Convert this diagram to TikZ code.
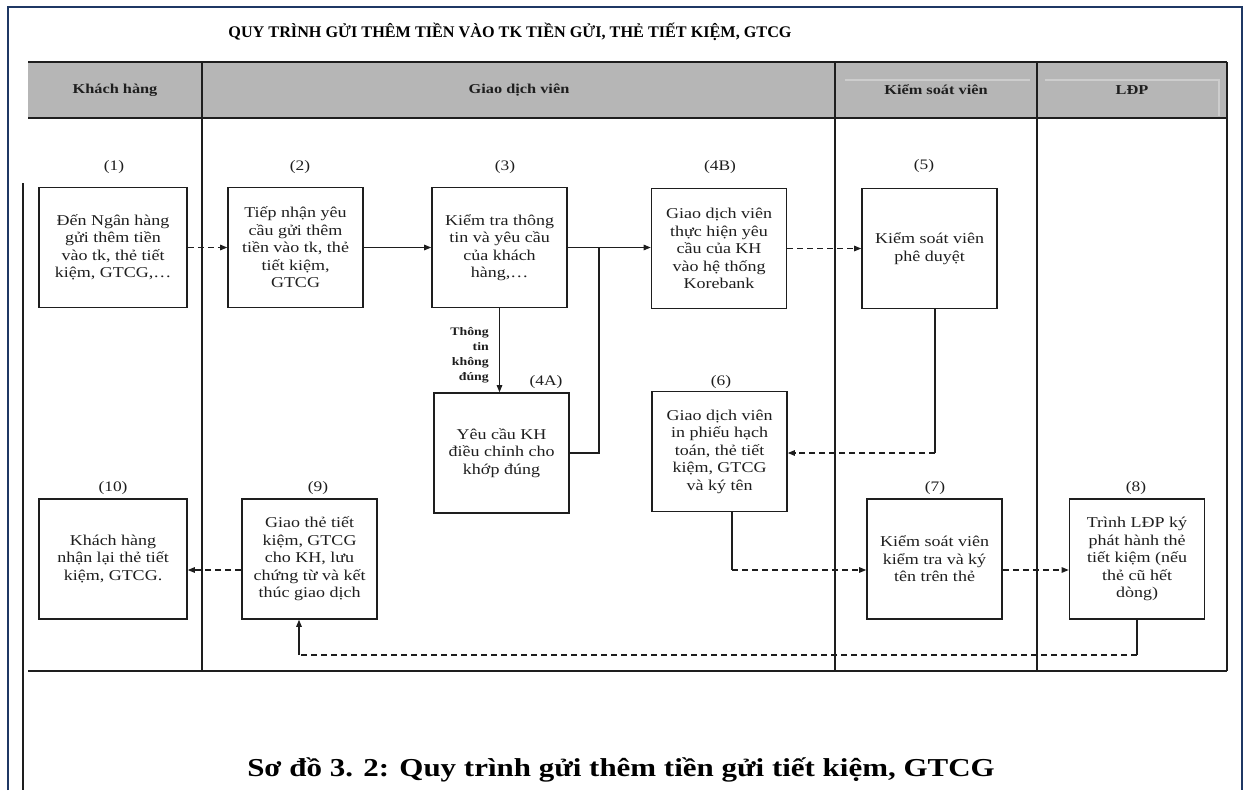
\documentclass[tikz,border=0pt]{standalone}
\usepackage{fontspec}
\setmainfont{Liberation Serif}[FakeStretch=1.2]
\newfontfamily\titlefont{Liberation Serif}
\usetikzlibrary{arrows.meta}
\definecolor{navy}{RGB}{31,56,100}
\definecolor{hdr}{RGB}{182,182,182}
\definecolor{hdrline}{RGB}{205,205,205}
\definecolor{ink}{RGB}{30,30,30}
\begin{document}
\begin{tikzpicture}[x=1pt,y=-1pt,
  box/.style={draw=ink, line width=1.6pt, minimum width=135pt, minimum height=120pt,
    align=center, inner sep=2pt, text=ink, font=\fontsize{15}{17.5}\selectfont},
  num/.style={text=ink, inner sep=0pt, font=\fontsize{14.5}{16}\selectfont},
  hdrtext/.style={text=ink, inner sep=0pt, font=\bfseries\fontsize{13.6}{15}\selectfont},
  lane/.style={draw=ink, line width=1.3pt},
  plain/.style={draw=ink, line width=1.1pt},
  dplain/.style={plain, dash pattern=on 6pt off 4pt},
  flow/.style={plain, -{Triangle[length=7pt,width=5.5pt]}},
  dflow/.style={flow, dash pattern=on 6pt off 4pt}]
\useasboundingbox (0,0) rectangle (1245,790);
% outer frame
\draw[navy, line width=2.5pt] (8,790) -- (8,7) -- (1242,7) -- (1242,790);
% left black line
\draw[lane] (23,183) -- (23,790);
% title
\node[text=black, font=\titlefont\bfseries\fontsize{16.2}{18}\selectfont] (title) at (510,32)
  {QUY TRÌNH GỬI THÊM TIỀN VÀO TK TIỀN GỬI, THẺ TIẾT KIỆM, GTCG};
% header band
\fill[hdr] (28,62) rectangle (1227,118);
\draw[hdrline, line width=1.2pt] (845,80) -- (1030,80) (1045,80) -- (1219,80) -- (1219,116);
\draw[lane] (28,62) -- (1227,62) (28,118) -- (1227,118) (28,671) -- (1227,671);
\draw[lane] (202,62) -- (202,671) (835,62) -- (835,671) (1037,62) -- (1037,671) (1227,62) -- (1227,671);
\node[hdrtext] (h1) at (115,90) {Khách hàng};
\node[hdrtext] (h2) at (519,90) {Giao dịch viên};
\node[hdrtext] (h3) at (936,90) {Kiểm soát viên};
\node[hdrtext] (h4) at (1132,90) {LĐP};
% boxes
\node[box, minimum width=148pt] (b1) at (113,247.5) {Đến Ngân hàng\\gửi thêm tiền\\vào tk, thẻ tiết\\kiệm, GTCG,…};
\node[box] (b2) at (295.5,247.5) {Tiếp nhận yêu\\cầu gửi thêm\\tiền vào tk, thẻ\\tiết kiệm,\\GTCG};
\node[box] (b3) at (499.5,247.5) {Kiểm tra thông\\tin và yêu cầu\\của khách\\hàng,…};
\node[box] (b4B) at (719,248.5) {Giao dịch viên\\thực hiện yêu\\cầu của KH\\vào hệ thống\\Korebank};
\node[box] (b5) at (929.5,248.5) {Kiểm soát viên\\phê duyệt};
\node[box] (b4A) at (501.5,453) {Yêu cầu KH\\điều chỉnh cho\\khớp đúng};
\node[box] (b6) at (719.5,451.5) {Giao dịch viên\\in phiếu hạch\\toán, thẻ tiết\\kiệm, GTCG\\và ký tên};
\node[box, minimum width=148pt] (b10) at (113,559) {Khách hàng\\nhận lại thẻ tiết\\kiệm, GTCG.};
\node[box] (b9) at (309.5,559) {Giao thẻ tiết\\kiệm, GTCG\\cho KH, lưu\\chứng từ và kết\\thúc giao dịch};
\node[box] (b7) at (934.5,559) {Kiểm soát viên\\kiểm tra và ký\\tên trên thẻ};
\node[box] (b8) at (1137,559) {Trình LĐP ký\\phát hành thẻ\\tiết kiệm (nếu\\thẻ cũ hết\\dòng)};
% step numbers
\node[num] (n1) at (114,167) {(1)};
\node[num] (n2) at (300,167) {(2)};
\node[num] (n3) at (505,167) {(3)};
\node[num] (n4B) at (720,167) {(4B)};
\node[num] (n5) at (924,166) {(5)};
\node[num] (n4A) at (546,382) {(4A)};
\node[num] (n6) at (721,382) {(6)};
\node[num] (n10) at (113,488) {(10)};
\node[num] (n9) at (318,488) {(9)};
\node[num] (n7) at (935,488) {(7)};
\node[num] (n8) at (1136,488) {(8)};
% side label
\node[anchor=east, align=right, text=ink, inner sep=0pt, font=\bfseries\fontsize{11.5}{15}\selectfont] (lbl) at (489,355) {Thông\\tin\\không\\đúng};
% connectors
\draw[dflow] (b1.east) -- (b2.west);
\draw[flow] (b2.east) -- (b3.west);
\draw[flow] (b3.east) -- (b4B.west |- b3.east);
\coordinate (j) at (599,247.5);
\draw[plain] (b4A.east) -| (j);
\draw[flow] (b3.south) -- (b3.south |- b4A.north);
\draw[dflow] (b4B.east) -- (b5.west |- b4B.east);
\coordinate (c5) at (935,453);
\draw[plain] (c5 |- b5.south) -- (c5);
\draw[dflow] (c5) -- (b6.east |- c5);
\coordinate (c6) at (732,570);
\draw[plain] (c6 |- b6.south) -- (c6);
\draw[dflow] (c6) -- (b7.west |- c6);
\draw[dflow] (b7.east |- c6) -- (b8.west |- c6);
\coordinate (c8) at (1137,655);
\coordinate (c9) at (299,655);
\draw[plain] (c8 |- b8.south) -- (c8);
\draw[dplain] (c8) -- (c9);
\draw[flow] (c9) -- (c9 |- b9.south);
\draw[dflow] (b9.west |- c6) -- (b10.east |- c6);
% caption
\node[text=black, font=\bfseries\fontsize{25.8}{30}\selectfont] (cap) at (621,770)
  {Sơ đồ 3. 2: Quy trình gửi thêm tiền gửi tiết kiệm, GTCG};
\end{tikzpicture}
\end{document}
